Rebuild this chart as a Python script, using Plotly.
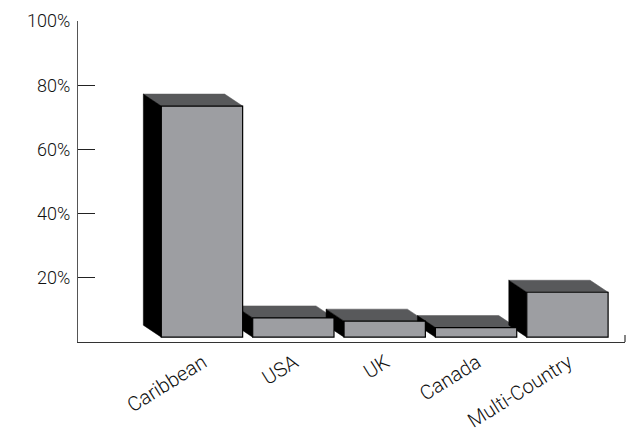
import plotly.graph_objects as go

categories = ["Caribbean", "USA", "UK", "Canada", "Multi-Country"]
values = [72, 6, 5, 3, 14]
y_ticks = [0, 20, 40, 60, 80, 100]
y_labels = ["", "20%", "40%", "60%", "80%", "100%"]

LIFT = 1.5
BAR_W = 0.89
DX = 0.197
DY = 3.74
FRONT = "#9d9ea2"
TOP = "#58595b"
SIDE = "#000000"
positions = list(range(len(categories)))


def poly(points, color):
    path = "M " + " L ".join(f"{x:.4f},{y:.4f}" for x, y in points) + " Z"
    return dict(type="path", path=path, xref="x", yref="y", layer="below",
                fillcolor=color, line=dict(color=color, width=0.5))


shapes = []
for p, v in zip(positions, values):
    l, r = p - BAR_W / 2, p + BAR_W / 2
    b, t = LIFT, LIFT + v
    shapes.append(poly([(l, t), (l - DX, t + DY), (r - DX, t + DY), (r, t)], TOP))
    shapes.append(poly([(l, b), (l - DX, b + DY), (l - DX, t + DY), (l, t)], SIDE))
shapes.append(dict(type="line", xref="x domain", yref="y", x0=1, x1=1, y0=0, y1=2.2,
                   line=dict(color="#333333", width=1.2)))

fig = go.Figure(go.Bar(
    x=positions, y=values, base=LIFT, width=BAR_W,
    marker=dict(color=FRONT, line=dict(color="#000000", width=1.2)),
    hoverinfo="skip",
))

xfont = dict(family="Roboto, Liberation Sans, sans-serif", size=20, color="#111111", weight=300)
yfont = dict(family="Roboto, Liberation Sans, sans-serif", size=18, color="#111111", weight=300)
fig.update_layout(
    width=644, height=432,
    margin=dict(l=78, r=19, t=21, b=90, autoexpand=False),
    paper_bgcolor="white", plot_bgcolor="white",
    showlegend=False, shapes=shapes,
    xaxis=dict(range=[-1.357, 4.63], tickvals=positions, ticktext=categories,
               tickangle=-32, ticks="", showgrid=False, zeroline=False, automargin=False,
               showline=True, linecolor="#333333", linewidth=1.2, tickfont=xfont,
               ticklabelshift=1, ticklabelstandoff=0),
    yaxis=dict(range=[0, 100], tickvals=y_ticks, ticktext=y_labels, automargin=False,
               ticks="inside", ticklen=17, tickwidth=1.2, tickcolor="#222222",
               showgrid=False, zeroline=False, ticklabelstandoff=3,
               showline=True, linecolor="#555555", linewidth=1.2, tickfont=yfont),
)
fig.write_html("out.html", config={"displayModeBar": False},
               post_script="document.body.style.margin='0';")
